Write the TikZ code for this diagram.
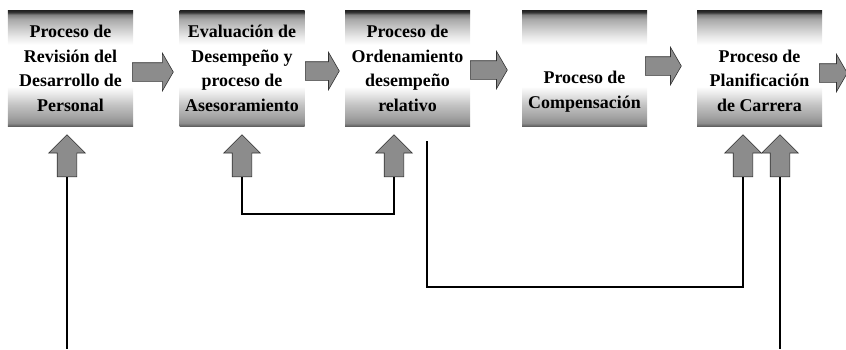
\documentclass[tikz,border=0pt]{standalone}
\usepackage{fontspec}
\setmainfont{Liberation Serif}
\usetikzlibrary{shapes.arrows}

% thin dark edges and grey bands at top and bottom of each process box,
% white in the middle (the path covers the 25bp..75bp part of the shading)
\pgfdeclareverticalshading{boxshade}{100bp}{%
  color(0bp)=(black!62); color(25bp)=(black!62); color(26.2bp)=(black!45);
  color(29bp)=(black!36); color(34bp)=(black!24); color(38.5bp)=(black!10);
  color(42bp)=(white); color(60bp)=(white); color(63.5bp)=(black!9);
  color(67.5bp)=(black!22); color(71bp)=(black!34); color(73bp)=(black!50);
  color(74bp)=(black!80); color(75bp)=(black!88); color(100bp)=(black!88)}

\tikzset{
  procbox/.style={shading=boxshade, minimum width=125bp, minimum height=116bp,
    inner sep=0pt},
  proctext/.style={font=\fontsize{18}{25}\selectfont\bfseries, align=center,
    inner sep=0pt, anchor=south},
  flowarrow/.style={single arrow, fill=black!45, draw=black!80, line width=0.6bp,
    inner xsep=0pt, inner ysep=9bp, single arrow head extend=9.5bp,
    single arrow tip angle=120, minimum height=41bp, anchor=tail},
  feedarrow/.style={single arrow, rotate=90, fill=black!45, draw=black!80,
    line width=0.6bp, inner xsep=0pt, inner ysep=9.5bp,
    single arrow head extend=8.5bp, single arrow tip angle=90,
    minimum height=42bp, anchor=tail},
  link/.style={line width=1.3bp, black}
}

\begin{document}
\begin{tikzpicture}[x=1bp, y=-1bp]
\useasboundingbox (0,0) rectangle (846,349);

% process boxes
\node[procbox] (b1) at (70.5,68) {};
\node[procbox] (b2) at (242,68) {};
\node[procbox] (b3) at (407.5,68) {};
\node[procbox] (b4) at (584.5,68) {};
\node[procbox] (b5) at (759.5,68) {};

% box captions, last line on a common baseline
\node[proctext] (t1) at ([yshift=14bp]b1.south) {Proceso de\\Revisión del\\Desarrollo de\\Personal};
\node[proctext] (t2) at ([yshift=14bp]b2.south) {Evaluación de\\Desempeño y\\proceso de\\Asesoramiento};
\node[proctext] (t3) at ([yshift=14bp]b3.south) {Proceso de\\Ordenamiento\\desempeño\\relativo};
\node[proctext] (t4) at ([yshift=14bp]b4.south) {Proceso de\\Compensación};
\node[proctext] (t5) at ([yshift=14bp]b5.south) {Proceso de\\Planificación\\de Carrera};

% flow arrows between the boxes
\node[flowarrow] (f1) at (132,72) {};
\node[flowarrow, minimum height=34bp] (f2) at (305,71) {};
\node[flowarrow, minimum height=37bp] (f3) at (470,70) {};
\node[flowarrow, minimum height=36bp] (f4) at (645,66) {};
\node[flowarrow, minimum height=28bp] (f5) at (819,73) {};

% feedback arrows under the boxes
\node[feedarrow] (u1) at (67,177) {};
\node[feedarrow] (u2) at (242,177) {};
\node[feedarrow] (u3) at (394,177) {};
\node[feedarrow] (u4) at (743,177) {};
\node[feedarrow] (u5) at (780,177) {};

% connector ends
\coordinate (e1) at (67,349);
\coordinate (e5) at (780,349);
\coordinate (s3) at (427,141);
\coordinate (k1) at (0,214);
\coordinate (k2) at (0,287);

% connectors
\draw[link] (u1.tail) -- (e1);
\draw[link] (u2.tail) |- (k1 -| u3.tail) -- (u3.tail);
\draw[link] (s3) |- (k2 -| u4.tail) -- (u4.tail);
\draw[link] (u5.tail) -- (e5);
\end{tikzpicture}
\end{document}
